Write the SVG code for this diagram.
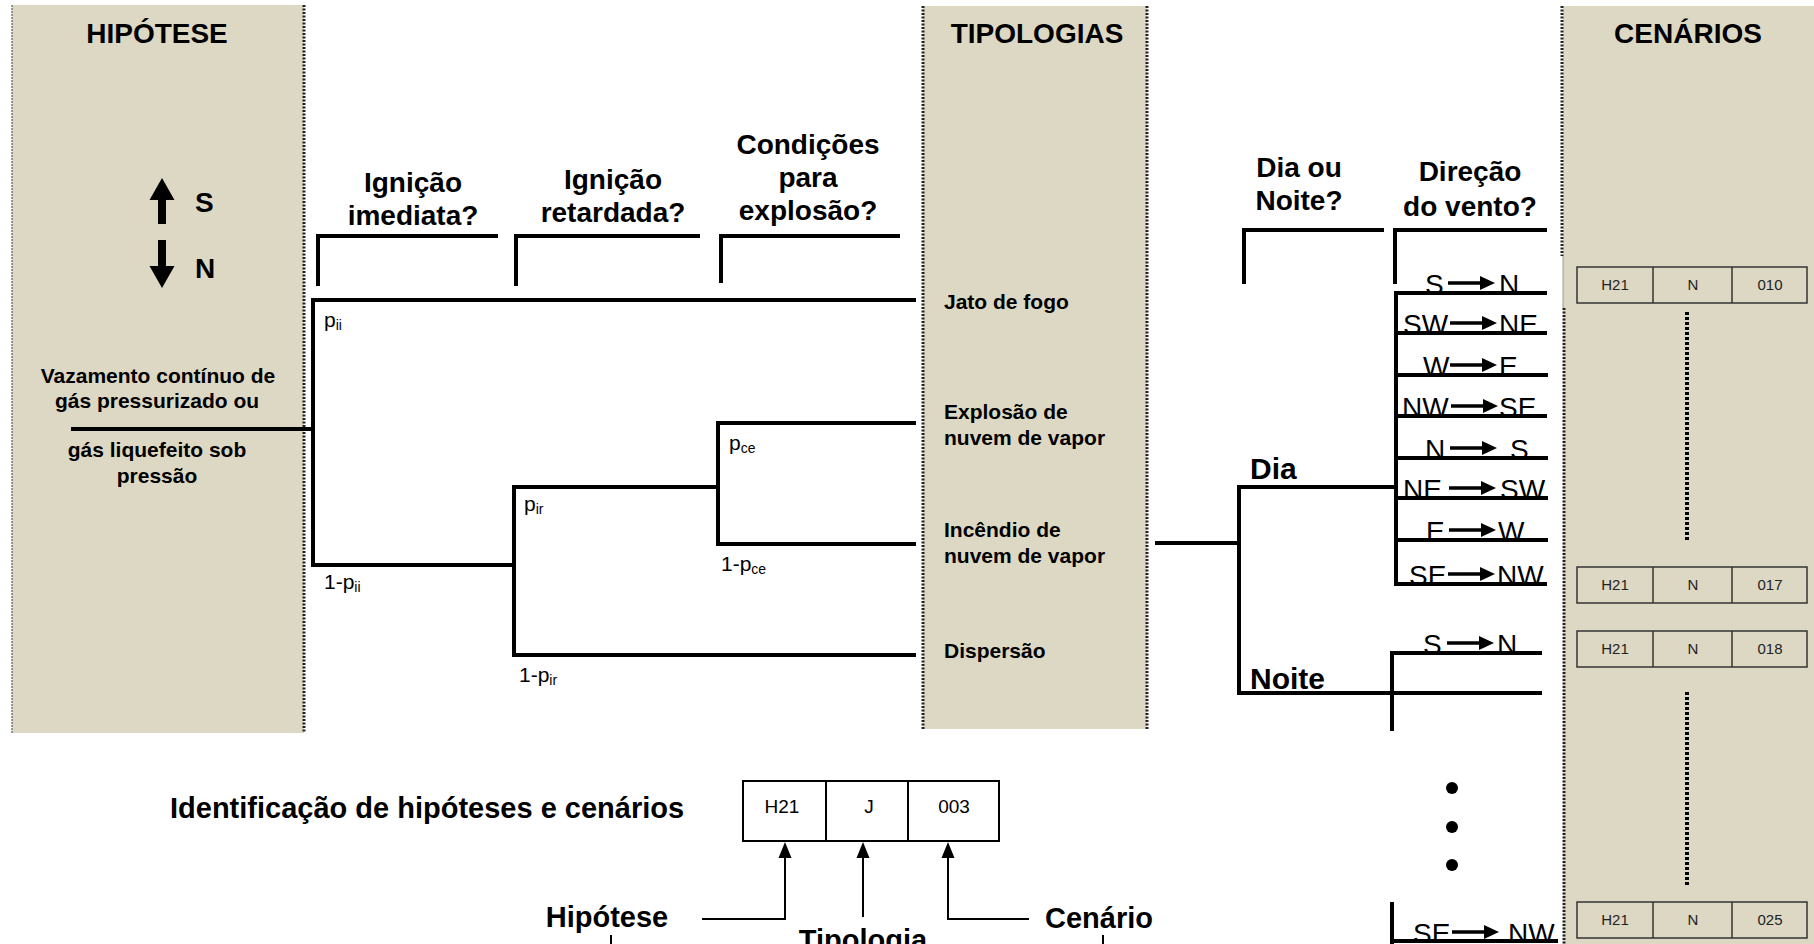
<svg xmlns="http://www.w3.org/2000/svg" xmlns:xlink="http://www.w3.org/1999/xlink" width="1814" height="944" viewBox="0 0 1814 944">
<style>
.panel{fill:#DDD8C3}
.dot{stroke:#222;stroke-width:3;stroke-dasharray:2 1.5;fill:none}
.thin{stroke:#777;stroke-width:1.5;stroke-dasharray:2 1;fill:none}
.ln{stroke:#000;stroke-width:4;fill:none;stroke-linecap:square}
.ln2{stroke:#000;stroke-width:2;fill:none}
.vdot{stroke:#000;stroke-width:4;stroke-dasharray:3 2;fill:none}
.hdr{font-family:"Liberation Sans",Arial,sans-serif;font-weight:bold;font-size:28px;fill:#000;text-anchor:middle}
.q{font-family:"Liberation Sans",Arial,sans-serif;font-weight:bold;font-size:28px;fill:#000;text-anchor:middle}
.hyp{font-family:"Liberation Sans",Arial,sans-serif;font-weight:bold;font-size:21px;fill:#000;text-anchor:middle}
.typ{font-family:"Liberation Sans",Arial,sans-serif;font-weight:bold;font-size:21px;fill:#000}
.pr{font-family:"Liberation Sans",Arial,sans-serif;font-size:21px;fill:#000}
.sub{font-size:14px}
.dir{font-family:"Liberation Sans",Arial,sans-serif;font-size:28px;fill:#000}
.dn{font-family:"Liberation Sans",Arial,sans-serif;font-weight:bold;font-size:30px;fill:#000}
.box{fill:none;stroke:#333;stroke-width:1.5}
.bt{font-family:"Liberation Sans",Arial,sans-serif;font-size:15px;fill:#222;text-anchor:middle}
.idb{fill:#fff;stroke:#000;stroke-width:2}
.it{font-family:"Liberation Sans",Arial,sans-serif;font-size:19px;fill:#000;text-anchor:middle}
.lbl{font-family:"Liberation Sans",Arial,sans-serif;font-weight:bold;font-size:29px;fill:#000}
</style>
<defs>
<g id="warr"><path d="M0 0H34" stroke="#000" stroke-width="3.5"/><path d="M32 -7L47 0L32 7Z" fill="#000"/></g>
<g id="cell3">
<rect class="box" x="0" y="0" width="230" height="36"/>
<path class="box" d="M76 0V36M155 0V36"/>
</g>
</defs>

<g id="panels">
<rect class="panel" x="12" y="5" width="292" height="728"/>
<path class="thin" d="M12 5V733"/>
<path class="dot" d="M304 5V733"/>
<rect class="panel" x="923" y="6" width="224" height="723"/>
<path class="dot" d="M923 6V729M1147 6V729"/>
<rect class="panel" x="1563" y="6" width="251" height="938"/>
<path class="dot" d="M1562 6V256M1564 308V944"/>
<path d="M1563 256V308" stroke="#999" stroke-width="1"/>
</g>

<g id="hipotese">
<text class="hdr" x="157" y="43">HIPÓTESE</text>
<path d="M162 178L174.5 200H166V224H158V200H149.5Z" fill="#000"/>
<path d="M158 240H166V266H174.5L162 288L149.5 266H158Z" fill="#000"/>
<text class="hdr" x="195" y="212" style="text-anchor:start">S</text>
<text class="hdr" x="195" y="278" style="text-anchor:start">N</text>
<text class="hyp" x="158" y="383">Vazamento contínuo de</text>
<text class="hyp" x="157" y="408">gás pressurizado ou</text>
<text class="hyp" x="157" y="457">gás liquefeito sob</text>
<text class="hyp" x="157" y="483">pressão</text>
</g>

<g id="questions">
<text class="q" x="413" y="192">Ignição</text>
<text class="q" x="413" y="225">imediata?</text>
<text class="q" x="613" y="189">Ignição</text>
<text class="q" x="613" y="222">retardada?</text>
<text class="q" x="808" y="154">Condições</text>
<text class="q" x="808" y="187">para</text>
<text class="q" x="808" y="220">explosão?</text>
<text class="q" x="1299" y="177">Dia ou</text>
<text class="q" x="1299" y="210">Noite?</text>
<text class="q" x="1470" y="181">Direção</text>
<text class="q" x="1470" y="216">do vento?</text>
<path class="ln" d="M318 284V236H496M516 284V236H698M721 281V236H898M1244 282V230H1382M1395 282V230H1545"/>
</g>

<g id="tipologias">
<text class="hdr" x="1037" y="43">TIPOLOGIAS</text>
<text class="typ" x="944" y="309">Jato de fogo</text>
<text class="typ" x="944" y="419">Explosão de</text>
<text class="typ" x="944" y="445">nuvem de vapor</text>
<text class="typ" x="944" y="537">Incêndio de</text>
<text class="typ" x="944" y="563">nuvem de vapor</text>
<text class="typ" x="944" y="658">Dispersão</text>
</g>

<g id="connectors">
<path class="ln" d="M73 429H313M313 300V565M313 300H914M313 565H514M514 487V655M514 487H718M514 655H914M718 423V544M718 423H914M718 544H914"/>
<path class="ln" d="M1157 543H1239M1239 487V693M1239 487H1396M1396 293V584M1239 693H1540M1392 653V729M1392 653H1540M1392 904V944M1392 941H1556"/>
<path class="ln" d="M1396 293H1545M1396 333H1545M1396 375H1546M1396 416H1545M1396 458H1546M1396 498H1546M1396 540H1546M1396 584H1545"/>
</g>

<g id="probabilidades">
<text class="pr" x="324" y="327">p<tspan class="sub" dy="3">ii</tspan></text>
<text class="pr" x="324" y="589">1-p<tspan class="sub" dy="3">ii</tspan></text>
<text class="pr" x="524" y="511">p<tspan class="sub" dy="3">ir</tspan></text>
<text class="pr" x="519" y="682">1-p<tspan class="sub" dy="3">ir</tspan></text>
<text class="pr" x="729" y="450">p<tspan class="sub" dy="3">ce</tspan></text>
<text class="pr" x="721" y="571">1-p<tspan class="sub" dy="3">ce</tspan></text>
</g>

<g id="dia-noite">
<text class="dn" x="1250" y="479">Dia</text>
<text class="dn" x="1250" y="689">Noite</text>
</g>

<g id="direcoes">
<text class="dir" x="1425" y="294">S</text><use xlink:href="#warr" x="1448" y="283"/><text class="dir" x="1499" y="294">N</text>
<text class="dir" x="1403" y="334">SW</text><use xlink:href="#warr" x="1450" y="323"/><text class="dir" x="1499" y="334">NE</text>
<text class="dir" x="1423" y="376">W</text><use xlink:href="#warr" x="1450" y="365"/><text class="dir" x="1499" y="376">E</text>
<text class="dir" x="1402" y="417">NW</text><use xlink:href="#warr" x="1451" y="406"/><text class="dir" x="1499" y="417">SE</text>
<text class="dir" x="1425" y="459">N</text><use xlink:href="#warr" x="1450" y="448"/><text class="dir" x="1510" y="459">S</text>
<text class="dir" x="1403" y="499">NE</text><use xlink:href="#warr" x="1449" y="488"/><text class="dir" x="1500" y="499">SW</text>
<text class="dir" x="1426" y="541">E</text><use xlink:href="#warr" x="1449" y="530"/><text class="dir" x="1498" y="541">W</text>
<text class="dir" x="1409" y="585">SE</text><use xlink:href="#warr" x="1448" y="574"/><text class="dir" x="1497" y="585">NW</text>
<text class="dir" x="1423" y="654">S</text><use xlink:href="#warr" x="1447" y="643"/><text class="dir" x="1497" y="654">N</text>
<text class="dir" x="1413" y="943">SE</text><use xlink:href="#warr" x="1452" y="932"/><text class="dir" x="1508" y="943">NW</text>
<circle cx="1452" cy="788" r="6"/>
<circle cx="1452" cy="827" r="6"/>
<circle cx="1452" cy="865" r="6"/>
</g>

<g id="cenarios">
<text class="hdr" x="1688" y="43">CENÁRIOS</text>
<use xlink:href="#cell3" x="1577" y="267"/>
<text class="bt" x="1615" y="290">H21</text><text class="bt" x="1693" y="290">N</text><text class="bt" x="1770" y="290">010</text>
<path class="vdot" d="M1687 312V540"/>
<use xlink:href="#cell3" x="1577" y="567"/>
<text class="bt" x="1615" y="590">H21</text><text class="bt" x="1693" y="590">N</text><text class="bt" x="1770" y="590">017</text>
<use xlink:href="#cell3" x="1577" y="631"/>
<text class="bt" x="1615" y="654">H21</text><text class="bt" x="1693" y="654">N</text><text class="bt" x="1770" y="654">018</text>
<path class="vdot" d="M1687 692V885"/>
<use xlink:href="#cell3" x="1577" y="902"/>
<text class="bt" x="1615" y="925">H21</text><text class="bt" x="1693" y="925">N</text><text class="bt" x="1770" y="925">025</text>
</g>

<g id="identificacao">
<text class="lbl" x="170" y="818">Identificação de hipóteses e cenários</text>
<rect class="idb" x="743" y="781" width="256" height="60"/>
<path class="ln2" d="M826 781V841M908 781V841"/>
<text class="it" x="782" y="813">H21</text>
<text class="it" x="869" y="813">J</text>
<text class="it" x="954" y="813">003</text>
<path class="ln2" d="M702 919H785V856M863 917V856M1029 919H948V856"/>
<path d="M785 842L791.5 858H778.5Z M863 842L869.5 858H856.5Z M948 842L954.5 858H941.5Z" fill="#000"/>
<text class="lbl" x="607" y="927" text-anchor="middle">Hipótese</text>
<text class="lbl" x="863" y="950" text-anchor="middle">Tipologia</text>
<text class="lbl" x="1099" y="928" text-anchor="middle">Cenário</text>
<path class="ln2" d="M611 935V944M1103 935V944"/>
</g>
</svg>
